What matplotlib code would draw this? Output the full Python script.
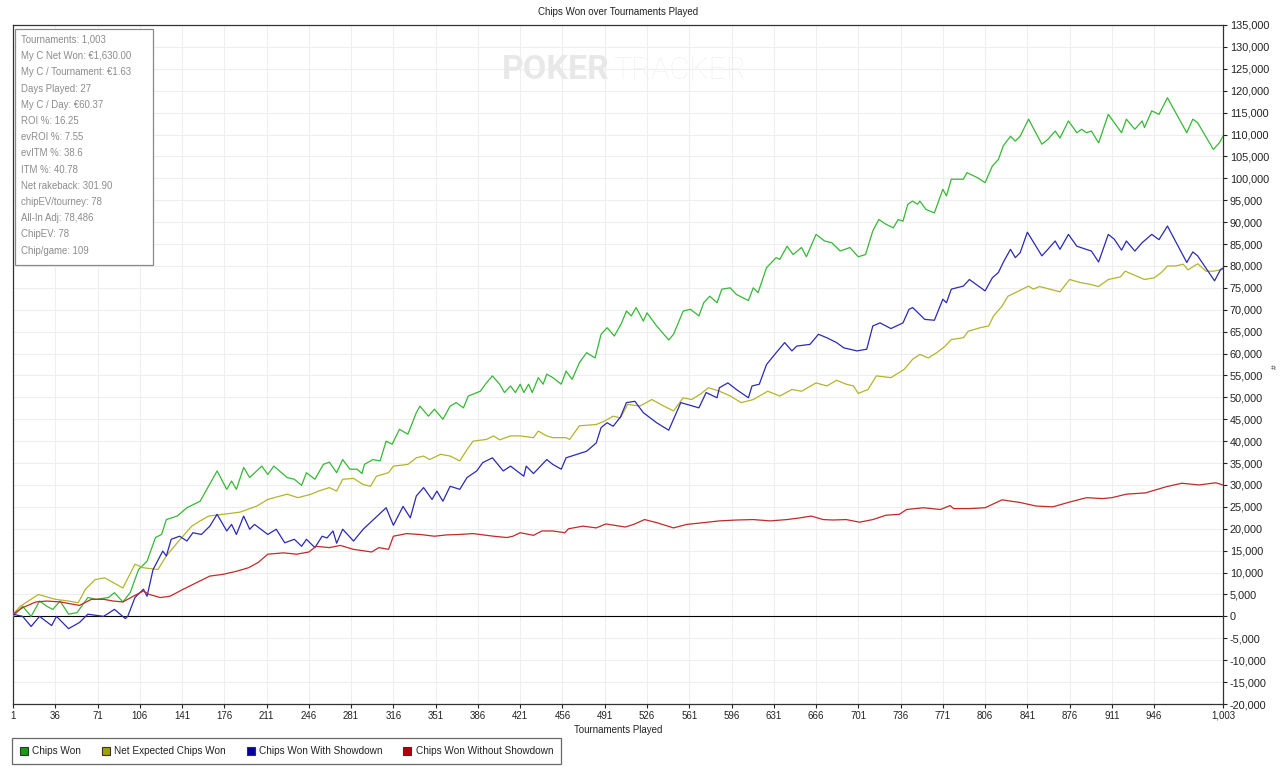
import matplotlib
matplotlib.use("Agg")
import matplotlib.pyplot as plt
from matplotlib.lines import Line2D
from matplotlib.ticker import FuncFormatter

plt.rcParams['font.family'] = ['Liberation Sans', 'DejaVu Sans']

# values (tournament number, chips)
green_t = [1, 9, 16, 23, 29, 34, 40, 47, 54, 63, 70, 80, 85, 92, 98, 105, 112, 119, 124, 128, 137, 145, 156,
           170, 178, 182, 186, 192, 197, 207, 212, 217, 228, 234, 240, 244, 251, 258, 263, 269, 274, 280, 286,
           290, 292, 299, 305, 310, 315, 321, 328, 335, 338, 345, 350, 357, 363, 368, 374, 378, 388, 393, 398,
           404, 408, 413, 417, 421, 424, 428, 431, 436, 440, 443, 448, 455, 459, 464, 470, 476, 483, 488, 493,
           499, 505, 509, 513, 517, 523, 526, 534, 544, 548, 556, 562, 569, 573, 578, 584, 588, 595, 600, 610,
           614, 618, 625, 633, 636, 642, 647, 654, 658, 666, 673, 679, 686, 694, 701, 707, 713, 718, 724, 730,
           734, 738, 742, 746, 750, 752, 757, 764, 771, 774, 778, 788, 791, 800, 806, 812, 817, 821, 827, 831,
           835, 842, 853, 858, 864, 868, 875, 882, 886, 890, 894, 900, 908, 913, 919, 923, 930, 936, 938, 944,
           950, 952, 957, 973, 978, 982, 995, 1000, 1003]
green_v = [0, 2300, 0, 3500, 2300, 1600, 3500, 500, 850, 4300, 3900, 4300, 5400, 3300, 5400, 10700, 12600,
           18000, 18700, 22100, 22900, 24800, 26300, 33200, 29000, 30900, 29000, 34000, 31700, 34300, 32400,
           34300, 31700, 31300, 29900, 32800, 31300, 34700, 35200, 32800, 35800, 33600, 33600, 32600, 34700,
           35800, 35500, 40000, 39300, 42700, 41600, 46500, 48000, 45700, 47300, 45000, 48000, 48800, 47600,
           50300, 51400, 53300, 54900, 53000, 51100, 52600, 51100, 53000, 51100, 53000, 51100, 54500, 53000,
           55300, 54500, 53000, 56000, 54100, 57900, 60200, 59000, 64400, 65900, 64000, 67000, 69700, 68600,
           70500, 67400, 69300, 66300, 63100, 64400, 69700, 70100, 68600, 71600, 73100, 71600, 74700, 75000,
           73500, 72100, 75000, 73900, 79600, 81900, 81500, 84500, 82600, 84200, 82100, 87200, 85700, 85300,
           83400, 84200, 82100, 82600, 88000, 90600, 89500, 88700, 90600, 90200, 94100, 94800, 94100, 94800,
           92900, 92100, 97500, 96000, 99800, 99800, 101300, 100100, 99000, 102800, 104300, 107400, 109600,
           108500, 109600, 113500, 107800, 108900, 110800, 109200, 113100, 110400, 111200, 110400, 110800,
           108100, 114600, 112700, 110400, 113500, 111200, 113100, 111600, 115400, 114600, 115700, 118400,
           110400, 113500, 112700, 106600, 108100, 109600]

yellow_t = [1, 7, 22, 36, 47, 55, 61, 69, 77, 84, 92, 102, 109, 121, 128, 137, 149, 156, 163, 175, 189, 203,
            212, 228, 237, 248, 254, 263, 269, 274, 283, 291, 297, 302, 312, 316, 328, 335, 341, 346, 355, 363,
            371, 377, 382, 393, 399, 404, 413, 421, 432, 436, 443, 448, 459, 462, 470, 484, 491, 498, 504, 510,
            520, 530, 540, 548, 556, 563, 570, 577, 586, 595, 604, 614, 626, 636, 646, 654, 666, 675, 683, 691,
            697, 701, 709, 716, 728, 739, 746, 752, 759, 766, 773, 778, 788, 792, 802, 809, 813, 820, 825, 831,
            842, 846, 851, 868, 876, 885, 893, 900, 908, 918, 922, 938, 946, 952, 957, 964, 970, 974, 982, 989,
            995, 1003]
yellow_v = [500, 2300, 5000, 3900, 3500, 3100, 6200, 8400, 8800, 7700, 6500, 11900, 11100, 10700, 13800,
            16800, 20600, 21800, 22900, 23300, 23800, 25200, 26700, 27900, 27100, 27900, 28600, 29400, 28600,
            31300, 31500, 30100, 29700, 32000, 32800, 34300, 34700, 36200, 36600, 35800, 37000, 36600, 35500,
            38100, 40000, 40400, 41200, 40300, 41200, 41200, 40800, 42300, 41200, 40800, 40800, 40400, 43500,
            43800, 44600, 45700, 45300, 48400, 48000, 49500, 48000, 46900, 49900, 49500, 50700, 52200, 51400,
            50300, 48800, 49500, 51400, 50300, 51800, 51400, 53300, 52600, 53900, 53000, 52600, 50900, 51800,
            54900, 54500, 56400, 58700, 59800, 59000, 60200, 61700, 63200, 63600, 65100, 65900, 66300, 68600,
            70800, 73100, 73900, 75400, 74700, 75300, 74100, 76900, 76200, 75800, 75300, 76900, 77500, 78800,
            76900, 77300, 78500, 80000, 80000, 80400, 79100, 80500, 78800, 78800, 79200]

blue_t = [1, 9, 16, 23, 33, 37, 47, 56, 63, 76, 85, 94, 96, 102, 109, 112, 117, 125, 128, 132, 139, 145, 150,
          157, 164, 170, 178, 182, 186, 192, 197, 201, 212, 219, 226, 234, 240, 244, 251, 257, 261, 266, 269,
          274, 283, 291, 310, 316, 324, 330, 335, 341, 348, 352, 357, 363, 371, 377, 385, 390, 398, 407, 413,
          424, 426, 432, 443, 448, 455, 459, 468, 476, 484, 488, 493, 498, 504, 509, 516, 523, 534, 544, 554,
          569, 575, 584, 586, 593, 600, 610, 613, 619, 625, 633, 640, 646, 650, 661, 668, 675, 683, 689, 700,
          708, 713, 719, 728, 738, 743, 746, 756, 764, 771, 774, 778, 788, 793, 806, 812, 817, 821, 827, 831,
          835, 841, 853, 858, 864, 868, 875, 882, 894, 900, 908, 913, 919, 923, 930, 936, 944, 950, 957, 973,
          978, 982, 996, 1001, 1003]
blue_v = [500, 0, -2300, 0, -2100, 0, -2800, -1400, 500, 0, 1600, -500, 0, 4300, 6200, 4600, 10700, 14900,
          13800, 17600, 18300, 17200, 19100, 18700, 20600, 23300, 19500, 21000, 18700, 22900, 19900, 21000,
          18700, 19900, 16800, 17600, 16000, 17600, 15700, 18300, 17900, 19500, 16700, 19900, 17200, 19900,
          24800, 20800, 25100, 22500, 27500, 29400, 26700, 28600, 26300, 29700, 29000, 31700, 33200, 35100,
          36200, 33200, 34300, 32000, 34300, 32600, 35800, 34700, 33600, 36200, 37000, 37700, 39600, 43100,
          44200, 43400, 45500, 48800, 49100, 46500, 44200, 42500, 48800, 47600, 51100, 49900, 52200, 53300,
          51800, 49900, 52600, 53000, 57500, 60200, 62500, 60600, 61700, 62100, 64400, 63600, 62500, 61300,
          60600, 61000, 66300, 67000, 65700, 67000, 70100, 70500, 67800, 67600, 72400, 71600, 74700, 75400,
          76900, 74300, 77300, 78500, 80800, 83800, 81900, 83000, 87700, 82300, 83800, 85700, 83800, 87200,
          84500, 83400, 80900, 87200, 86100, 83600, 85700, 83400, 85300, 87200, 86000, 89100, 80800, 83200,
          82300, 76600, 79200, 79500]

red_t = [1, 9, 20, 29, 40, 56, 66, 76, 84, 92, 102, 109, 114, 123, 131, 142, 153, 164, 175, 186, 196, 204,
         212, 225, 236, 246, 252, 263, 272, 283, 298, 304, 312, 316, 327, 338, 350, 360, 371, 382, 399, 410,
         415, 421, 432, 439, 448, 458, 461, 473, 484, 492, 508, 515, 524, 534, 548, 559, 573, 586, 600, 614,
         628, 642, 653, 662, 672, 680, 691, 702, 713, 724, 735, 741, 755, 769, 777, 780, 793, 806, 820, 835,
         848, 862, 876, 890, 903, 911, 923, 939, 956, 969, 983, 997, 1003]
red_v = [500, 2000, 3300, 3500, 3300, 2500, 3900, 3900, 3500, 3300, 4800, 5800, 5000, 4300, 4600, 6200, 7700,
         9200, 9600, 10300, 11100, 12300, 14200, 14500, 14200, 14700, 16000, 15700, 16200, 15300, 14700, 15700,
         15300, 18300, 18900, 18700, 18300, 18600, 18700, 18900, 18300, 18000, 18300, 19100, 18500, 19500,
         19500, 19100, 20000, 20600, 20200, 21100, 20400, 21000, 22100, 21400, 20200, 21000, 21400, 21800,
         22000, 22100, 21800, 22100, 22500, 22900, 22100, 22000, 22100, 21500, 22100, 23100, 23300, 24400,
         24800, 24400, 25300, 24600, 24600, 24800, 26600, 26000, 25200, 25000, 26100, 27100, 26900, 27100,
         27900, 28200, 29600, 30400, 30000, 30500, 30000]

x_ticks = [1, 36, 71, 106, 141, 176, 211, 246, 281, 316, 351, 386, 421, 456, 491, 526, 561, 596, 631, 666,
           701, 736, 771, 806, 841, 876, 911, 946, 1003]
series_names = ['Chips Won', 'Net Expected Chips Won', 'Chips Won With Showdown', 'Chips Won Without Showdown']
line_colors = ['#36b836', '#b4b42a', '#2a2ab4', '#c02a2a']
legend_colors = ['#10a010', '#a0a000', '#0000a8', '#b00000']

stats = ['Tournaments: 1,003', 'My C Net Won: \u20ac1,630.00', 'My C / Tournament: \u20ac1.63',
         'Days Played: 27', 'My C / Day: \u20ac60.37', 'ROI %: 16.25', 'evROI %: 7.55', 'evITM %: 38.6',
         'ITM %: 40.78', 'Net rakeback: 301.90', 'chipEV/tourney: 78', 'All-In Adj: 78,486', 'ChipEV: 78',
         'Chip/game: 109']

W, H = 1280, 767


def fx(x):
    return x / W


def fy(y):
    return 1 - y / H


fig = plt.figure(figsize=(12.8, 7.67), dpi=100)
ax = fig.add_axes([fx(13), fy(704), fx(1223) - fx(13), fy(25) - fy(704)])

for t, v, c in zip([green_t, yellow_t, blue_t, red_t], [green_v, yellow_v, blue_v, red_v], line_colors):
    ax.plot(t, v, color=c, lw=0.9, zorder=3)

ax.axhline(0, color='black', lw=0.8, zorder=2)
ax.set_xlim(1, 1003)
ax.set_ylim(-20000, 135000)
ax.set_xticks(x_ticks)
ax.set_xticklabels([f'{t:,}' for t in x_ticks])
ax.set_yticks(range(-20000, 135001, 5000))
ax.yaxis.set_major_formatter(FuncFormatter(lambda v, p: f'{int(v):,}'))
ax.yaxis.tick_right()
ax.tick_params(axis='both', length=3, width=0.8, pad=2, colors='#222222')
ax.tick_params(axis='x', labelsize=7)
ax.tick_params(axis='y', labelsize=7.8)
ax.grid(True, color='#eeeeee', lw=0.8, zorder=0)
ax.set_axisbelow(True)
for s in ax.spines.values():
    s.set_color('#333333')
    s.set_linewidth(0.9)

fig.text(fx(618), fy(12), 'Chips Won over Tournaments Played', ha='center', va='center', fontsize=7,
         color='#222222')
fig.text(fx(618), fy(730), 'Tournaments Played', ha='center', va='center', fontsize=7, color='#222222')
fig.text(fx(1275), fy(367), '#', ha='center', va='center', fontsize=6, rotation=90, color='#333333')

# watermark
fig.text(fx(610), fy(79), 'POKER', ha='right', va='baseline', fontsize=24.5, fontweight='bold',
         family='Roboto', color='#e8e8e8', zorder=1)
fig.text(fx(613), fy(79), 'TRACKER', ha='left', va='baseline', fontsize=22, fontweight='light',
         family='Roboto', color='#f1f1f1', zorder=1)

# stats box
box = plt.Rectangle((fx(15), fy(265)), fx(153) - fx(15), fy(29) - fy(265), transform=fig.transFigure,
                    facecolor='white', edgecolor='#888888', lw=0.9, zorder=4)
fig.patches.append(box)
for i, s in enumerate(stats):
    fig.text(fx(21), fy(40 + i * 16.2), s, ha='left', va='center', fontsize=6.9, color='#8c8c8c', zorder=5)

handles = [Line2D([], [], marker='s', ls='none', markersize=5.5, markerfacecolor=c, markeredgecolor='#333333',
                  markeredgewidth=0.8) for c in legend_colors]
leg = fig.legend(handles, series_names, loc='lower left', bbox_to_anchor=(fx(12), fy(764)), ncol=4,
                 fontsize=7.2, frameon=True, fancybox=False, edgecolor='#444444', handlelength=0.8,
                 handletextpad=0.45, columnspacing=2.05, borderpad=0.8, borderaxespad=0, labelcolor='#222222')
leg.get_frame().set_linewidth(0.9)

fig.savefig('out.png', dpi=100, facecolor='white')
